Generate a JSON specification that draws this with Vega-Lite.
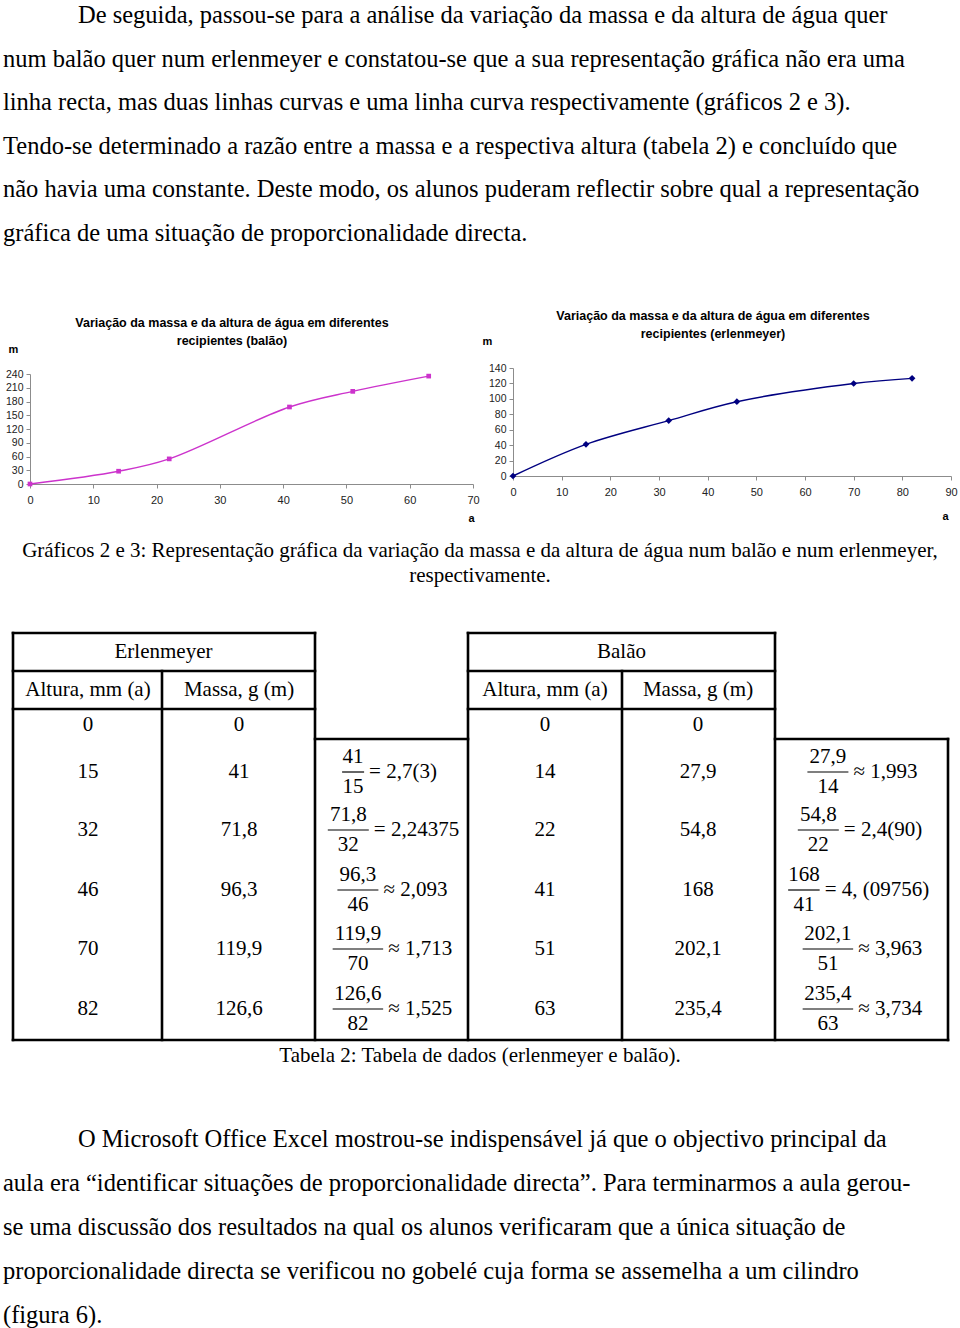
{
  "$schema": "https://vega.github.io/schema/vega-lite/v6.json",
  "width": 960,
  "height": 1328,
  "autosize": {"type": "none"},
  "padding": 0,
  "background": "white",
  "config": {"view": {"stroke": null}},
  "datasets": {
    "paragraphs": [
      {"line": 1, "indent": 1, "text": "De seguida, passou-se para a análise da variação da massa e da altura de água quer"},
      {"line": 2, "indent": 0, "text": "num balão quer num erlenmeyer e constatou-se que a sua representação gráfica não era uma"},
      {"line": 3, "indent": 0, "text": "linha recta, mas duas linhas curvas e uma linha curva respectivamente (gráficos 2 e 3)."},
      {"line": 4, "indent": 0, "text": "Tendo-se determinado a razão entre a massa e a respectiva altura (tabela 2) e concluído que"},
      {"line": 5, "indent": 0, "text": "não havia uma constante. Deste modo, os alunos puderam reflectir sobre qual a representação"},
      {"line": 6, "indent": 0, "text": "gráfica de uma situação de proporcionalidade directa."},
      {"line": 7, "indent": 1, "text": "O Microsoft Office Excel mostrou-se indispensável já que o objectivo principal da"},
      {"line": 8, "indent": 0, "text": "aula era “identificar situações de proporcionalidade directa”. Para terminarmos a aula gerou-"},
      {"line": 9, "indent": 0, "text": "se uma discussão dos resultados na qual os alunos verificaram que a única situação de"},
      {"line": 10, "indent": 0, "text": "proporcionalidade directa se verificou no gobelé cuja forma se assemelha a um cilindro"},
      {"line": 11, "indent": 0, "text": "(figura 6)."}
    ],
    "captions": [
      {"line": 1, "text": "Gráficos 2 e 3: Representação gráfica da variação da massa e da altura de água num balão e num erlenmeyer,"},
      {"line": 2, "text": "respectivamente."},
      {"line": 3, "text": "Tabela 2: Tabela de dados (erlenmeyer e balão)."}
    ],
    "chartTitles": [
      {"chart": "balão", "line": 1, "text": "Variação da massa e da altura de água em diferentes"},
      {"chart": "balão", "line": 2, "text": "recipientes (balão)"},
      {"chart": "erlenmeyer", "line": 1, "text": "Variação da massa e da altura de água em diferentes"},
      {"chart": "erlenmeyer", "line": 2, "text": "recipientes (erlenmeyer)"}
    ],
    "balao": [
      {"a": 0, "m": 0},
      {"a": 14, "m": 27.9},
      {"a": 22, "m": 54.8},
      {"a": 41, "m": 168},
      {"a": 51, "m": 202.1},
      {"a": 63, "m": 235.4}
    ],
    "erlenmeyer": [
      {"a": 0, "m": 0},
      {"a": 15, "m": 41},
      {"a": 32, "m": 71.8},
      {"a": 46, "m": 96.3},
      {"a": 70, "m": 119.9},
      {"a": 82, "m": 126.6}
    ],
    "cells": [
      {"col": 0.5, "row": 0, "text": "Erlenmeyer"},
      {"col": 3.5, "row": 0, "text": "Balão"},
      {"col": 0, "row": 1, "text": "Altura, mm (a)"},
      {"col": 1, "row": 1, "text": "Massa, g (m)"},
      {"col": 3, "row": 1, "text": "Altura, mm (a)"},
      {"col": 4, "row": 1, "text": "Massa, g (m)"},
      {"col": 0, "row": 2, "text": "0"},
      {"col": 1, "row": 2, "text": "0"},
      {"col": 3, "row": 2, "text": "0"},
      {"col": 4, "row": 2, "text": "0"},
      {"col": 0, "row": 3, "text": "15"},
      {"col": 1, "row": 3, "text": "41"},
      {"col": 3, "row": 3, "text": "14"},
      {"col": 4, "row": 3, "text": "27,9"},
      {"col": 0, "row": 4, "text": "32"},
      {"col": 1, "row": 4, "text": "71,8"},
      {"col": 3, "row": 4, "text": "22"},
      {"col": 4, "row": 4, "text": "54,8"},
      {"col": 0, "row": 5, "text": "46"},
      {"col": 1, "row": 5, "text": "96,3"},
      {"col": 3, "row": 5, "text": "41"},
      {"col": 4, "row": 5, "text": "168"},
      {"col": 0, "row": 6, "text": "70"},
      {"col": 1, "row": 6, "text": "119,9"},
      {"col": 3, "row": 6, "text": "51"},
      {"col": 4, "row": 6, "text": "202,1"},
      {"col": 0, "row": 7, "text": "82"},
      {"col": 1, "row": 7, "text": "126,6"},
      {"col": 3, "row": 7, "text": "63"},
      {"col": 4, "row": 7, "text": "235,4"}
    ],
    "ratios": [
      {"col": 2, "row": 3, "num": "41", "den": "15", "res": "= 2,7(3)"},
      {"col": 2, "row": 4, "num": "71,8", "den": "32", "res": "= 2,24375"},
      {"col": 2, "row": 5, "num": "96,3", "den": "46", "res": "≈ 2,093"},
      {"col": 2, "row": 6, "num": "119,9", "den": "70", "res": "≈ 1,713"},
      {"col": 2, "row": 7, "num": "126,6", "den": "82", "res": "≈ 1,525"},
      {"col": 5, "row": 3, "num": "27,9", "den": "14", "res": "≈ 1,993"},
      {"col": 5, "row": 4, "num": "54,8", "den": "22", "res": "= 2,4(90)"},
      {"col": 5, "row": 5, "num": "168", "den": "41", "res": "= 4, (09756)"},
      {"col": 5, "row": 6, "num": "202,1", "den": "51", "res": "≈ 3,963"},
      {"col": 5, "row": 7, "num": "235,4", "den": "63", "res": "≈ 3,734"}
    ],
    "borders": [
      {"c1": 0, "c2": 2, "r1": 0, "r2": 0},
      {"c1": 0, "c2": 2, "r1": 1, "r2": 1},
      {"c1": 0, "c2": 2, "r1": 2, "r2": 2},
      {"c1": 3, "c2": 5, "r1": 0, "r2": 0},
      {"c1": 3, "c2": 5, "r1": 1, "r2": 1},
      {"c1": 3, "c2": 5, "r1": 2, "r2": 2},
      {"c1": 2, "c2": 3, "r1": 3, "r2": 3},
      {"c1": 5, "c2": 6, "r1": 3, "r2": 3},
      {"c1": 0, "c2": 6, "r1": 8, "r2": 8},
      {"c1": 0, "c2": 0, "r1": 0, "r2": 8},
      {"c1": 1, "c2": 1, "r1": 1, "r2": 8},
      {"c1": 2, "c2": 2, "r1": 0, "r2": 8},
      {"c1": 3, "c2": 3, "r1": 0, "r2": 8},
      {"c1": 4, "c2": 4, "r1": 1, "r2": 8},
      {"c1": 5, "c2": 5, "r1": 0, "r2": 8},
      {"c1": 6, "c2": 6, "r1": 3, "r2": 8}
    ]
  },
  "layer": [
    {
      "data": {"name": "paragraphs"},
      "mark": {"type": "text", "align": "left", "baseline": "alphabetic", "font": "Liberation Serif", "fontSize": 24.5, "color": "#000000"},
      "encoding": {
        "x": {"field": "indent", "type": "quantitative", "scale": {"domain": [0, 1], "range": [3, 78], "nice": false, "zero": false}, "axis": null},
        "y": {"field": "line", "type": "quantitative", "scale": {"domain": [1, 6, 7, 11], "range": [23, 241, 1147, 1323], "nice": false, "zero": false}, "axis": null},
        "text": {"field": "text"}
      }
    },
    {
      "data": {"name": "captions"},
      "mark": {"type": "text", "align": "center", "baseline": "alphabetic", "font": "Liberation Serif", "fontSize": 21, "color": "#000000", "x": {"expr": "width/2"}},
      "encoding": {
        "y": {"field": "line", "type": "quantitative", "scale": {"domain": [1, 2, 3], "range": [557, 582, 1062], "nice": false, "zero": false}, "axis": null},
        "text": {"field": "text"}
      }
    },
    {
      "data": {"name": "chartTitles"},
      "encoding": {
        "x": {"field": "chart", "type": "nominal", "scale": {"type": "point", "domain": ["balão", "erlenmeyer"], "range": [232, 713], "padding": 0}, "axis": null},
        "y": {"field": "line", "type": "quantitative", "scale": {"domain": [1, 2], "range": [323, 341], "nice": false, "zero": false}, "axis": null},
        "text": {"field": "text"}
      },
      "layer": [
        {
          "transform": [{"filter": "datum.chart === 'balão'"}],
          "mark": {"type": "text", "align": "center", "baseline": "middle", "font": "Liberation Sans", "fontWeight": "bold", "fontSize": 12.5, "color": "#000000"}
        },
        {
          "transform": [{"filter": "datum.chart === 'erlenmeyer'"}],
          "mark": {"type": "text", "align": "center", "baseline": "middle", "font": "Liberation Sans", "fontWeight": "bold", "fontSize": 12.5, "color": "#000000", "dy": -7}
        }
      ]
    },
    {
      "data": {"name": "balao"},
      "encoding": {
        "x": {
          "field": "a", "type": "quantitative",
          "scale": {"domain": [0, 70], "range": [30, 473], "nice": false, "zero": false},
          "axis": {"orient": "bottom", "offset": -844, "values": [0, 10, 20, 30, 40, 50, 60, 70], "grid": false, "domainColor": "#8c8c8c", "tickColor": "#8c8c8c", "tickSize": 4, "labelFont": "Liberation Sans", "labelFontSize": 11, "labelColor": "#222222", "labelPadding": 6, "labelFlush": false, "labelOverlap": false, "title": "a", "titleX": 471, "titleY": 34, "titleAngle": 0, "titleAlign": "center", "titleBaseline": "middle", "titleFont": "Liberation Sans", "titleFontSize": 11, "titleFontWeight": "bold", "titleColor": "#000000"}
        },
        "y": {
          "field": "m", "type": "quantitative",
          "scale": {"domain": [0, 240], "range": [484, 374], "nice": false, "zero": false},
          "axis": {"orient": "left", "offset": -30, "values": [0, 30, 60, 90, 120, 150, 180, 210, 240], "grid": false, "domainColor": "#8c8c8c", "tickColor": "#8c8c8c", "tickSize": 4, "labelFont": "Liberation Sans", "labelFontSize": 10.5, "labelColor": "#222222", "labelPadding": 3, "labelFlush": false, "labelOverlap": false, "title": "m", "titleX": -17, "titleY": 349, "titleAngle": 0, "titleAlign": "center", "titleBaseline": "middle", "titleFont": "Liberation Sans", "titleFontSize": 11, "titleFontWeight": "bold", "titleColor": "#000000"}
        }
      },
      "layer": [
        {"mark": {"type": "line", "interpolate": "catmull-rom", "color": "#CC33CC", "strokeWidth": 1.4}},
        {"mark": {"type": "point", "shape": "square", "filled": true, "size": 22, "color": "#CC33CC", "opacity": 1}}
      ]
    },
    {
      "data": {"name": "erlenmeyer"},
      "encoding": {
        "x": {
          "field": "a", "type": "quantitative",
          "scale": {"domain": [0, 90], "range": [513, 951], "nice": false, "zero": false},
          "axis": {"orient": "bottom", "offset": -852, "values": [0, 10, 20, 30, 40, 50, 60, 70, 80, 90], "grid": false, "domainColor": "#8c8c8c", "tickColor": "#8c8c8c", "tickSize": 4, "labelFont": "Liberation Sans", "labelFontSize": 11, "labelColor": "#222222", "labelPadding": 6, "labelFlush": false, "labelOverlap": false, "title": "a", "titleX": 945, "titleY": 40, "titleAngle": 0, "titleAlign": "center", "titleBaseline": "middle", "titleFont": "Liberation Sans", "titleFontSize": 11, "titleFontWeight": "bold", "titleColor": "#000000"}
        },
        "y": {
          "field": "m", "type": "quantitative",
          "scale": {"domain": [0, 140], "range": [476, 368], "nice": false, "zero": false},
          "axis": {"orient": "left", "offset": -513, "values": [0, 20, 40, 60, 80, 100, 120, 140], "grid": false, "domainColor": "#8c8c8c", "tickColor": "#8c8c8c", "tickSize": 4, "labelFont": "Liberation Sans", "labelFontSize": 10.5, "labelColor": "#222222", "labelPadding": 3, "labelFlush": false, "labelOverlap": false, "title": "m", "titleX": -26, "titleY": 341, "titleAngle": 0, "titleAlign": "center", "titleBaseline": "middle", "titleFont": "Liberation Sans", "titleFontSize": 11, "titleFontWeight": "bold", "titleColor": "#000000"}
        }
      },
      "layer": [
        {"mark": {"type": "line", "interpolate": "catmull-rom", "color": "#000080", "strokeWidth": 1.4}},
        {"mark": {"type": "point", "shape": "diamond", "filled": true, "size": 45, "color": "#000080", "opacity": 1}}
      ]
    },
    {
      "encoding": {
        "x": {"field": "col", "type": "quantitative", "scale": {"domain": [0, 1, 2, 3, 4, 5], "range": [88, 239, 391, 545, 698, 861], "nice": false, "zero": false}, "axis": null},
        "y": {"field": "row", "type": "quantitative", "scale": {"domain": [0, 1, 2, 3, 4, 5, 6, 7], "range": [652, 690, 725, 772, 830, 890, 949, 1009], "nice": false, "zero": false}, "axis": null}
      },
      "layer": [
        {
          "data": {"name": "cells"},
          "mark": {"type": "text", "align": "center", "baseline": "middle", "font": "Liberation Serif", "fontSize": 21, "color": "#000000"},
          "encoding": {"text": {"field": "text"}}
        },
        {
          "data": {"name": "ratios"},
          "mark": {"type": "tick", "orient": "horizontal", "size": {"expr": "9.5*length(datum.num)+3"}, "thickness": 1.2, "color": "#000000", "xOffset": {"expr": "-(5+9.6*length(datum.res))/2+3"}, "opacity": 1}
        },
        {
          "data": {"name": "ratios"},
          "mark": {"type": "text", "align": "center", "baseline": "middle", "font": "Liberation Serif", "fontSize": 21, "color": "#000000", "dx": {"expr": "-(5+9.6*length(datum.res))/2+3"}, "dy": -15},
          "encoding": {"text": {"field": "num"}}
        },
        {
          "data": {"name": "ratios"},
          "mark": {"type": "text", "align": "center", "baseline": "middle", "font": "Liberation Serif", "fontSize": 21, "color": "#000000", "dx": {"expr": "-(5+9.6*length(datum.res))/2+3"}, "dy": 15},
          "encoding": {"text": {"field": "den"}}
        },
        {
          "data": {"name": "ratios"},
          "mark": {"type": "text", "align": "left", "baseline": "middle", "font": "Liberation Serif", "fontSize": 21, "color": "#000000", "dx": {"expr": "-(5+9.6*length(datum.res))/2+3+(9.5*length(datum.num)+3)/2+5"}},
          "encoding": {"text": {"field": "res"}}
        }
      ]
    },
    {
      "data": {"name": "borders"},
      "mark": {"type": "rule", "strokeWidth": 2.6, "color": "#000000", "strokeCap": "square"},
      "encoding": {
        "x": {"field": "c1", "type": "quantitative", "scale": {"domain": [0, 1, 2, 3, 4, 5, 6], "range": [13, 162, 315, 468, 622, 775, 948], "nice": false, "zero": false}, "axis": null},
        "x2": {"field": "c2"},
        "y": {"field": "r1", "type": "quantitative", "scale": {"domain": [0, 1, 2, 3, 4, 5, 6, 7, 8], "range": [633, 671, 709, 739, 801, 860, 919, 979, 1040], "nice": false, "zero": false}, "axis": null},
        "y2": {"field": "r2"}
      }
    }
  ],
  "resolve": {"scale": {"x": "independent", "y": "independent"}}
}
